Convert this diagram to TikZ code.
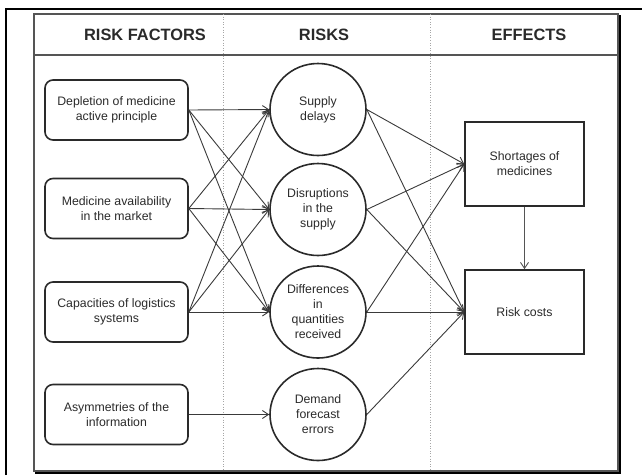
\documentclass[tikz,border=0pt]{standalone}
\usepackage{fontspec}
\setmainfont{Liberation Sans}
\usetikzlibrary{shapes.geometric,arrows.meta}
\definecolor{frame}{HTML}{555555}
\definecolor{ink}{HTML}{2A2A2A}
\definecolor{wire}{HTML}{3A3A3A}
\begin{document}
\begin{tikzpicture}[x=1pt,y=-1pt,
  factor/.style={draw=ink,line width=1.6pt,rounded corners=8pt,minimum width=143pt,
    minimum height=60pt,inner sep=0pt,align=center,text=ink,
    font=\fontsize{12.3}{15}\selectfont},
  risk/.style={draw=ink,line width=1.6pt,ellipse,minimum width=96pt,minimum height=92pt,
    inner sep=0pt,align=center,text=ink,font=\fontsize{12.3}{15}\selectfont},
  effect/.style={draw=ink,line width=1.6pt,minimum width=119pt,inner sep=0pt,
    align=center,text=ink,font=\fontsize{12.3}{15}\selectfont},
  head/.style={text=ink,font=\fontsize{16.4}{18}\selectfont\bfseries},
  link/.style={draw=wire,line width=0.9pt,-{Straight Barb[length=6pt,width=8pt]}},
  divider/.style={draw=gray!70,line width=0.6pt,dotted}]
\useasboundingbox (0,0) rectangle (642,475);
% outer frame (top and left edges only)
\draw[line width=2pt] (6,475) -- (6,9) -- (642,9);
% inner frame with header band
\draw[frame,line width=1.5pt] (34,14) rectangle (618,471);
\draw[line width=1.2pt] (620,15) -- (620,473) -- (35,473);
\draw[frame,line width=1.8pt] (34,55) -- (618,55);
\draw[divider] (223,14) -- (223,471);
\draw[divider] (430,14) -- (430,471);
% column headings
\node[head] (h1) at (145,35) {RISK FACTORS};
\node[head] (h2) at (324,35) {RISKS};
\node[head] (h3) at (529,35) {EFFECTS};
% risk factors
\node[factor] (f1) at (116.5,110) {Depletion of medicine\\active principle};
\node[factor] (f2) at (116.5,208.5) {Medicine availability\\in the market};
\node[factor] (f3) at (116.5,312) {Capacities of logistics\\systems};
\node[factor] (f4) at (116.5,414.5) {Asymmetries of the\\information};
% risks
\node[risk] (r1) at (318,109.5) {Supply\\delays};
\node[risk] (r2) at (318,209.5) {Disruptions\\in the\\supply};
\node[risk] (r3) at (318,312) {Differences\\in\\quantities\\received};
\node[risk] (r4) at (318,414.5) {Demand\\forecast\\errors};
% effects
\node[effect,minimum height=84pt] (e1) at (524.5,164) {Shortages of\\medicines};
\node[effect,minimum height=84pt] (e2) at (524.5,312) {Risk costs};
% factor -> risk links
\foreach \f in {f1,f2,f3}
  \foreach \r in {r1,r2,r3}
    \draw[link] (\f.east) -- (\r.west);
\draw[link] (f4.east) -- (r4.west);
% risk -> effect links
\foreach \r in {r1,r2,r3}
  \foreach \e in {e1,e2}
    \draw[link] (\r.east) -- (\e.west);
\draw[link] (r4.east) -- (e2.west);
\draw[link,draw=frame] (e1.south) -- (e2.north);
\end{tikzpicture}
\end{document}
